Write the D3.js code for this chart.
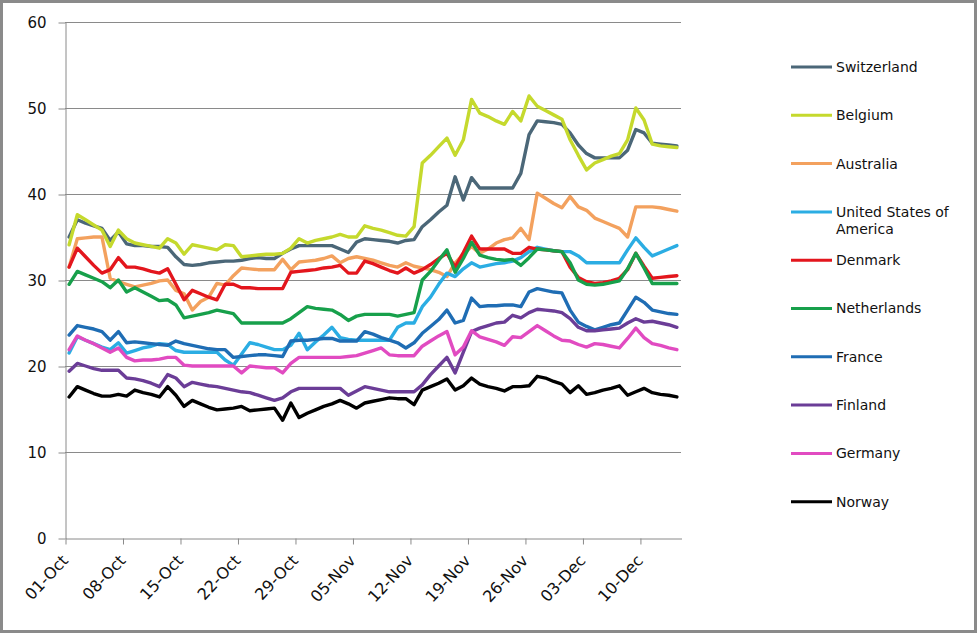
<!DOCTYPE html>
<html>
<head>
<meta charset="utf-8">
<script src="https://cdn.jsdelivr.net/npm/d3@7"></script>
<style>
  body { margin: 0; background: #fff; }
  svg { display: block; }
</style>
</head>
<body>
<div id="chart"></div>
<script>
var WIDTH = 978, HEIGHT = 634;
var PLOT_LEFT = 65, PLOT_RIGHT = 681, PLOT_TOP = 22, PLOT_BOTTOM = 538;

// categories: one value per day, 01-Oct to 14-Dec
var startDay = new Date(2009, 9, 1);
var days = d3.timeDay.range(startDay, new Date(2009, 11, 15));
var tickDays = d3.range(0, 75, 7).map(function(i) { return d3.timeDay.offset(startDay, i); });
var yTicks = [0, 10, 20, 30, 40, 50, 60];

var countries = ["Switzerland", "Belgium", "Australia", "United States of America", "Denmark",
                 "Netherlands", "France", "Finland", "Germany", "Norway"];

var switzerland = [35.0,37.0,36.6,36.3,36.0,34.6,35.6,34.2,34.0,34.0,33.9,33.9,33.8,32.7,31.8,31.7,31.8,32.0,32.1,32.2,
  32.2,32.3,32.5,32.6,32.5,32.5,33.1,33.6,34.0,34.0,34.0,34.0,34.0,33.6,33.2,34.4,34.8,34.7,34.6,34.5,
  34.3,34.6,34.7,36.2,37.0,37.9,38.7,42.0,39.3,41.9,40.7,40.7,40.7,40.7,40.7,42.4,46.9,48.5,48.4,48.3,
  48.1,47.1,45.7,44.7,44.2,44.2,44.2,44.2,45.1,47.5,47.1,45.9,45.8,45.7,45.6];
var belgium = [34.1,37.6,37.0,36.4,35.8,33.9,35.8,34.8,34.3,34.1,33.9,33.7,34.8,34.3,33.0,34.1,33.9,33.7,33.5,34.1,
  34.0,32.7,32.8,32.9,33.0,33.0,33.1,33.7,34.8,34.3,34.6,34.8,35.0,35.3,35.0,35.0,36.3,36.0,35.8,35.5,
  35.2,35.1,36.2,43.6,44.5,45.5,46.5,44.5,46.3,51.0,49.4,49.0,48.5,48.1,49.6,48.5,51.4,50.2,49.7,49.2,
  48.7,46.3,44.5,42.8,43.6,44.0,44.4,44.7,46.3,50.0,48.6,45.8,45.6,45.5,45.4];
var australia = [31.5,34.8,34.9,35.0,35.0,30.2,29.8,29.5,29.2,29.4,29.6,29.9,30.0,28.8,28.4,26.5,27.5,28.0,29.6,29.4,
  30.5,31.4,31.3,31.2,31.2,31.2,32.4,31.2,32.1,32.2,32.3,32.5,32.8,32.0,32.5,32.7,32.5,32.3,32.0,31.7,
  31.5,32.0,31.6,31.4,31.2,30.9,30.4,32.0,33.0,33.9,33.1,33.6,34.3,34.7,34.9,36.0,34.7,40.1,39.5,38.9,
  38.4,39.7,38.5,38.1,37.2,36.8,36.4,36.0,35.0,38.5,38.5,38.5,38.4,38.2,38.0];
var usa = [21.5,23.4,23.0,22.6,22.2,21.9,22.7,21.5,21.8,22.1,22.3,22.6,22.5,21.8,21.6,21.6,21.6,21.6,21.6,20.7,
  20.1,21.4,22.7,22.5,22.2,21.9,21.9,22.4,23.8,21.9,22.8,23.6,24.5,23.3,23.1,23.0,23.0,23.0,23.0,23.0,
  24.5,25.0,25.0,26.9,28.0,29.5,30.8,30.4,31.3,32.0,31.5,31.7,31.9,32.0,32.2,32.6,33.3,33.8,33.6,33.4,
  33.3,33.3,32.8,32.0,32.0,32.0,32.0,32.0,33.5,34.9,33.8,32.8,33.2,33.6,34.0];
var denmark = [31.5,33.7,32.7,31.7,30.8,31.2,32.6,31.5,31.5,31.3,31.0,30.8,31.3,29.5,27.7,28.8,28.4,28.0,27.7,29.5,
  29.5,29.1,29.1,29.0,29.0,29.0,29.0,30.9,31.0,31.1,31.2,31.4,31.5,31.7,30.8,30.8,32.2,31.9,31.5,31.1,
  30.8,31.4,30.8,31.2,31.8,32.5,33.1,31.5,33.2,35.1,33.6,33.6,33.6,33.6,33.1,33.1,33.8,33.6,33.5,33.4,
  33.3,31.5,30.3,29.8,29.6,29.7,29.9,30.2,31.2,33.1,31.6,30.2,30.3,30.4,30.5];
var netherlands = [29.5,31.0,30.6,30.2,29.8,29.1,30.0,28.6,29.1,28.6,28.1,27.6,27.7,27.1,25.6,25.8,26.0,26.2,26.5,26.3,
  26.1,25.0,25.0,25.0,25.0,25.0,25.0,25.5,26.2,26.9,26.7,26.6,26.5,26.0,25.3,25.8,26.0,26.0,26.0,26.0,
  25.8,26.0,26.2,30.0,31.0,32.3,33.5,30.9,32.5,34.4,32.9,32.6,32.4,32.3,32.4,31.7,32.6,33.6,33.5,33.4,
  33.3,32.0,30.0,29.5,29.4,29.5,29.7,29.9,31.3,33.1,31.4,29.6,29.6,29.6,29.6];
var france = [23.6,24.7,24.5,24.3,24.0,23.0,24.0,22.7,22.8,22.7,22.6,22.5,22.4,22.9,22.6,22.4,22.2,22.0,21.9,21.9,
  21.0,21.1,21.2,21.3,21.3,21.2,21.1,22.9,23.0,23.0,23.1,23.2,23.2,22.9,22.9,22.9,24.0,23.7,23.3,23.0,
  22.7,22.1,22.7,23.8,24.6,25.4,26.5,25.0,25.3,27.9,26.9,27.0,27.0,27.1,27.1,26.9,28.6,29.0,28.8,28.6,
  28.5,26.5,25.1,24.6,24.2,24.5,24.8,25.0,26.5,28.0,27.4,26.5,26.3,26.1,26.0];
var finland = [19.4,20.3,20.0,19.7,19.5,19.5,19.5,18.6,18.5,18.3,18.0,17.6,19.0,18.6,17.6,18.1,17.9,17.7,17.6,17.4,
  17.2,17.0,16.9,16.6,16.3,16.0,16.3,17.0,17.4,17.4,17.4,17.4,17.4,17.4,16.6,17.1,17.6,17.4,17.2,17.0,
  17.0,17.0,17.0,17.8,19.0,20.0,21.0,19.2,21.6,24.0,24.4,24.7,25.0,25.1,25.9,25.6,26.2,26.6,26.5,26.4,
  26.2,25.5,24.5,24.1,24.1,24.2,24.3,24.4,25.0,25.5,25.1,25.2,25.0,24.8,24.5];
var germany = [21.9,23.5,23.0,22.6,22.1,21.6,22.1,21.0,20.6,20.7,20.7,20.8,21.0,21.0,20.1,20.0,20.0,20.0,20.0,20.0,
  20.0,19.2,20.0,19.9,19.8,19.8,19.2,20.3,21.0,21.0,21.0,21.0,21.0,21.0,21.1,21.2,21.5,21.8,22.1,21.3,
  21.2,21.2,21.2,22.3,22.9,23.5,24.0,21.3,22.2,24.1,23.4,23.1,22.8,22.4,23.4,23.3,24.0,24.7,24.1,23.5,
  23.0,22.9,22.5,22.2,22.6,22.5,22.3,22.1,23.2,24.4,23.3,22.6,22.4,22.1,21.9];
var norway = [16.4,17.6,17.2,16.8,16.5,16.5,16.7,16.5,17.2,16.9,16.7,16.4,17.6,16.6,15.3,16.0,15.6,15.2,14.9,15.0,
  15.1,15.3,14.8,14.9,15.0,15.1,13.7,15.7,14.0,14.5,14.9,15.3,15.6,16.0,15.6,15.1,15.7,15.9,16.1,16.3,
  16.2,16.2,15.5,17.2,17.6,18.0,18.5,17.2,17.7,18.6,17.9,17.6,17.4,17.1,17.6,17.6,17.7,18.8,18.6,18.2,
  17.9,16.9,17.7,16.7,16.9,17.2,17.4,17.7,16.6,17.0,17.4,16.9,16.7,16.6,16.4];

var seriesValues = [switzerland, belgium, australia, usa, denmark, netherlands, france, finland, germany, norway];
var lineColors = ["#4b6778", "#c5d92d", "#f3a15e", "#2badE3", "#e3161d", "#17a04b", "#1f6db4", "#6b3d97", "#e14bc1", "#000000"];

var svg = d3.select("#chart").append("svg")
    .attr("width", WIDTH)
    .attr("height", HEIGHT);

svg.append("rect")
    .attr("x", 1.5).attr("y", 1.5)
    .attr("width", WIDTH - 4).attr("height", HEIGHT - 4)
    .attr("fill", "#fff")
    .attr("stroke", "#8a8a8a")
    .attr("stroke-width", 3);

var x = d3.scaleTime()
    .domain([startDay, new Date(2009, 11, 15)])
    .range([PLOT_LEFT, PLOT_RIGHT]);
var y = d3.scaleLinear()
    .domain([0, 60])
    .range([PLOT_BOTTOM, PLOT_TOP]);

// gridlines
svg.append("g")
    .selectAll("line")
    .data(yTicks.filter(function(d) { return d > 0; }))
    .enter()
    .append("line")
        .attr("x1", PLOT_LEFT).attr("x2", PLOT_RIGHT)
        .attr("y1", function(d) { return y(d) + 0.5; })
        .attr("y2", function(d) { return y(d) + 0.5; })
        .attr("stroke", "#8a8a8a")
        .attr("stroke-width", 1);

var yAxis = svg.append("g")
    .attr("transform", "translate(" + (PLOT_LEFT + 0.5) + ",0.5)")
    .call(d3.axisLeft(y).tickValues(yTicks).tickSize(7).tickPadding(12).tickSizeOuter(0));
yAxis.select(".domain").attr("stroke", "#8a8a8a");
yAxis.selectAll(".tick line").attr("stroke", "#8a8a8a");
yAxis.selectAll("text")
    .attr("font-family", "DejaVu Sans")
    .attr("font-size", "15px")
    .attr("fill", "#111");

var xAxis = svg.append("g")
    .attr("transform", "translate(0.5," + (PLOT_BOTTOM + 0.5) + ")")
    .call(d3.axisBottom(x).tickValues(tickDays).tickSize(6).tickSizeOuter(0)
        .tickFormat(d3.timeFormat("%d-%b")));
xAxis.select(".domain").attr("stroke", "#8a8a8a");
xAxis.selectAll(".tick line").attr("stroke", "#8a8a8a");
xAxis.selectAll("text")
    .attr("font-family", "DejaVu Sans")
    .attr("font-size", "16px")
    .attr("fill", "#111")
    .attr("text-anchor", "end")
    .attr("x", 0)
    .attr("y", 0)
    .attr("dy", "0.35em")
    .attr("transform", "translate(-1,19) rotate(-47)");

var line = d3.line()
    .x(function(d, i) { return x(d3.timeHour.offset(days[i], 12)); })
    .y(function(d) { return y(d); });

svg.append("g")
    .selectAll("path")
    .data(seriesValues)
    .enter()
    .append("path")
        .attr("d", line)
        .attr("fill", "none")
        .attr("stroke", function(d, i) { return lineColors[i]; })
        .attr("stroke-width", 3.4)
        .attr("stroke-linejoin", "round")
        .attr("stroke-linecap", "round");

// legend
var legend = svg.append("g").attr("class", "legend");
var LEGEND_TOP = 67, LEGEND_STEP = 48.3;
legend.selectAll("line")
    .data(countries)
    .enter()
    .append("line")
        .attr("x1", 791).attr("x2", 832)
        .attr("y1", function(d, i) { return LEGEND_TOP + i * LEGEND_STEP; })
        .attr("y2", function(d, i) { return LEGEND_TOP + i * LEGEND_STEP; })
        .attr("stroke", function(d, i) { return lineColors[i]; })
        .attr("stroke-width", 3);
var labels = legend.selectAll("text")
    .data(countries)
    .enter()
    .append("text")
        .attr("x", 836)
        .attr("y", function(d, i) { return LEGEND_TOP + i * LEGEND_STEP; })
        .attr("dy", "0.35em")
        .attr("font-family", "DejaVu Sans")
        .attr("font-size", "14px")
        .attr("fill", "#111");
labels.each(function(d) {
    var t = d3.select(this);
    if (d === "United States of America") {
        t.append("tspan").attr("x", 836).text("United States of");
        t.append("tspan").attr("x", 836).attr("dy", "1.25em").text("America");
    } else {
        t.text(d);
    }
});
</script>
</body>
</html>
